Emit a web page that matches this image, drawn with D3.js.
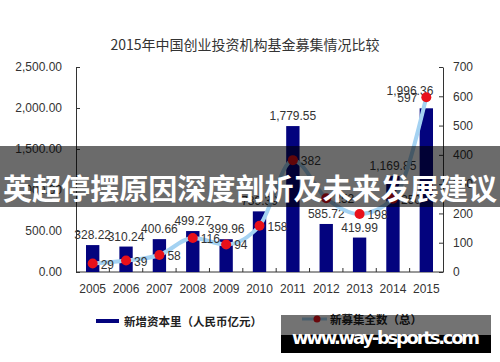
<!DOCTYPE html>
<html>
<head>
<meta charset="utf-8">
<script src="https://cdn.jsdelivr.net/npm/d3@7"></script>
<style>
  body { margin: 0; background: #fff; }
  svg { display: block; }
  .axis text { font-family: "Liberation Sans", Arial, sans-serif; font-size: 12px; fill: #333; }
  .axis path, .axis line { stroke: #333; }
</style>
</head>
<body>
<div id="chart"></div>
<script>
// data
var years = ["2005","2006","2007","2008","2009","2010","2011","2012","2013","2014","2015"];
var capital = [328.22, 310.24, 400.66, 499.27, 399.96, 739.39, 1779.55, 585.72, 419.99, 1169.85, 1996.36];
var funds = [29, 39, 58, 116, 94, 158, 382, 252, 198, 250, 597];
var leftTicks = [0, 500, 1000, 1500, 2000, 2500];
var rightTicks = [0, 100, 200, 300, 400, 500, 600, 700];

var width = 500, height = 362;
var margin = {top: 67, right: 57, bottom: 90, left: 76};

var svg = d3.select("#chart").append("svg")
    .attr("width", width)
    .attr("height", height);

var x = d3.scaleBand()
    .domain(years)
    .range([margin.left, width - margin.right])
    .paddingInner(0.6)
    .paddingOuter(0.3);

var yL = d3.scaleLinear().domain([0, 2500]).range([height - margin.bottom, margin.top]);
var yR = d3.scaleLinear().domain([0, 700]).range([height - margin.bottom, margin.top]);

var fmt2 = d3.format(",.2f");

// title
svg.append("text")
    .attr("x", 245)
    .attr("y", 44)
    .attr("text-anchor", "middle")
    .attr("dominant-baseline", "central")
    .style("font-family", "'Noto Sans CJK SC', sans-serif")
    .style("font-size", "14px")
    .style("fill", "#333")
    .text("2015年中国创业投资机构基金募集情况比较");

// axes
svg.append("g")
    .attr("class", "axis")
    .attr("transform", "translate(" + margin.left + ",0)")
    .call(d3.axisLeft(yL).tickValues(leftTicks).tickFormat(fmt2).tickSizeInner(-4).tickSizeOuter(0).tickPadding(14));

svg.append("g")
    .attr("class", "axis")
    .attr("transform", "translate(" + (width - margin.right) + ",0)")
    .call(d3.axisRight(yR).tickValues(rightTicks).tickSizeInner(-4).tickSizeOuter(0).tickPadding(10));

var xAxis = svg.append("g")
    .attr("class", "axis")
    .attr("transform", "translate(0," + yL(0) + ")")
    .call(d3.axisBottom(x).tickSize(0).tickPadding(12));
xAxis.select(".domain").attr("d", "M" + x.range()[0] + ",0H" + x.range()[1]);

// small ticks between the categories
var bounds = d3.range(1, years.length).map(function(i) { return x.range()[0] + i * x.step(); });
xAxis.selectAll(".sep")
    .data(bounds)
  .enter().append("line")
    .attr("class", "sep")
    .attr("x1", function(d) { return d; })
    .attr("x2", function(d) { return d; })
    .attr("y1", 0)
    .attr("y2", -4);

// bars
svg.selectAll(".bar")
    .data(capital)
  .enter().append("rect")
    .attr("class", "bar")
    .attr("x", function(d, i) { return x(years[i]); })
    .attr("width", x.bandwidth())
    .attr("y", function(d) { return yL(d); })
    .attr("height", function(d) { return yL(0) - yL(d); })
    .style("fill", "#03037e");

var last = years.length - 1;

svg.selectAll(".barlabel")
    .data(capital)
  .enter().append("text")
    .attr("class", "barlabel")
    .attr("x", function(d, i) { return x(years[i]) + x.bandwidth() / 2 + (i == last ? 7 : 0); })
    .attr("y", function(d, i) { return yL(d) - (i == last ? 13 : 6); })
    .attr("text-anchor", function(d, i) { return i == last ? "end" : "middle"; })
    .style("font-family", "'Liberation Sans', Arial, sans-serif")
    .style("font-size", "12px")
    .style("fill", "#333")
    .text(function(d) { return fmt2(d); });

// line
var line = d3.line()
    .x(function(d, i) { return x(years[i]) + x.bandwidth() / 2; })
    .y(function(d) { return yR(d); })
    .curve(d3.curveMonotoneX);

svg.append("path")
    .datum(funds)
    .attr("d", line)
    .style("fill", "none")
    .style("stroke", "#a4d2f2")
    .style("stroke-width", 4);

svg.selectAll(".dot")
    .data(funds)
  .enter().append("circle")
    .attr("class", "dot")
    .attr("cx", function(d, i) { return x(years[i]) + x.bandwidth() / 2; })
    .attr("cy", function(d) { return yR(d); })
    .attr("r", 5)
    .style("fill", "#e8101a");

svg.selectAll(".dotlabel")
    .data(funds)
  .enter().append("text")
    .attr("class", "dotlabel")
    .attr("x", function(d, i) { return x(years[i]) + x.bandwidth() / 2 + (i == last ? -9 : 8); })
    .attr("y", function(d) { return yR(d) + 5; })
    .attr("text-anchor", function(d, i) { return i == last ? "end" : "start"; })
    .style("font-family", "'Liberation Sans', Arial, sans-serif")
    .style("font-size", "12px")
    .style("fill", "#333")
    .text(function(d) { return d; });

// legend
var legend = svg.append("g").attr("transform", "translate(0,321)");
legend.append("line")
    .attr("x1", 96).attr("x2", 119).attr("y1", 0).attr("y2", 0)
    .style("stroke", "#03037e").style("stroke-width", 4);
legend.append("text")
    .attr("x", 124).attr("y", 0)
    .attr("dominant-baseline", "central")
    .style("font-family", "'Noto Sans CJK SC', sans-serif")
    .style("font-size", "11.5px").style("font-weight", "bold").style("fill", "#222")
    .text("新增资本里（人民币亿元）");
legend.append("line")
    .attr("x1", 302).attr("x2", 327).attr("y1", -2).attr("y2", -2)
    .style("stroke", "#a4d2f2").style("stroke-width", 3);
legend.append("circle")
    .attr("cx", 317).attr("cy", -2).attr("r", 3.5)
    .style("fill", "#e8101a");
legend.append("text")
    .attr("x", 330).attr("y", -2)
    .attr("dominant-baseline", "central")
    .style("font-family", "'Noto Sans CJK SC', sans-serif")
    .style("font-size", "11.5px").style("font-weight", "bold").style("fill", "#222")
    .text("新募集全数（总）");

// grey banner with headline
svg.append("rect")
    .attr("x", 0).attr("y", 146).attr("width", width).attr("height", 61)
    .style("fill", "rgba(0,0,0,0.58)");
svg.append("text")
    .attr("x", 250).attr("y", 187)
    .attr("text-anchor", "middle")
    .attr("dominant-baseline", "central")
    .attr("textLength", 494)
    .style("font-family", "'Noto Sans CJK SC', sans-serif")
    .style("font-size", "29px").style("font-weight", "bold").style("fill", "#fff")
    .text("英超停摆原因深度剖析及未来发展建议");

// site watermark
svg.append("rect")
    .attr("x", 281).attr("y", 315).attr("width", 210).attr("height", 20)
    .style("fill", "rgba(0,0,0,0.55)");
svg.append("rect")
    .attr("x", 281).attr("y", 335).attr("width", 210).attr("height", 18)
    .style("fill", "#000");
svg.append("text")
    .attr("x", 386).attr("y", 344)
    .attr("text-anchor", "middle")
    .attr("textLength", 188)
    .style("font-family", "'DejaVu Sans', sans-serif")
    .style("font-size", "18px").style("font-weight", "bold").style("fill", "#fff")
    .text("www.way-bsports.com");
</script>
</body>
</html>
